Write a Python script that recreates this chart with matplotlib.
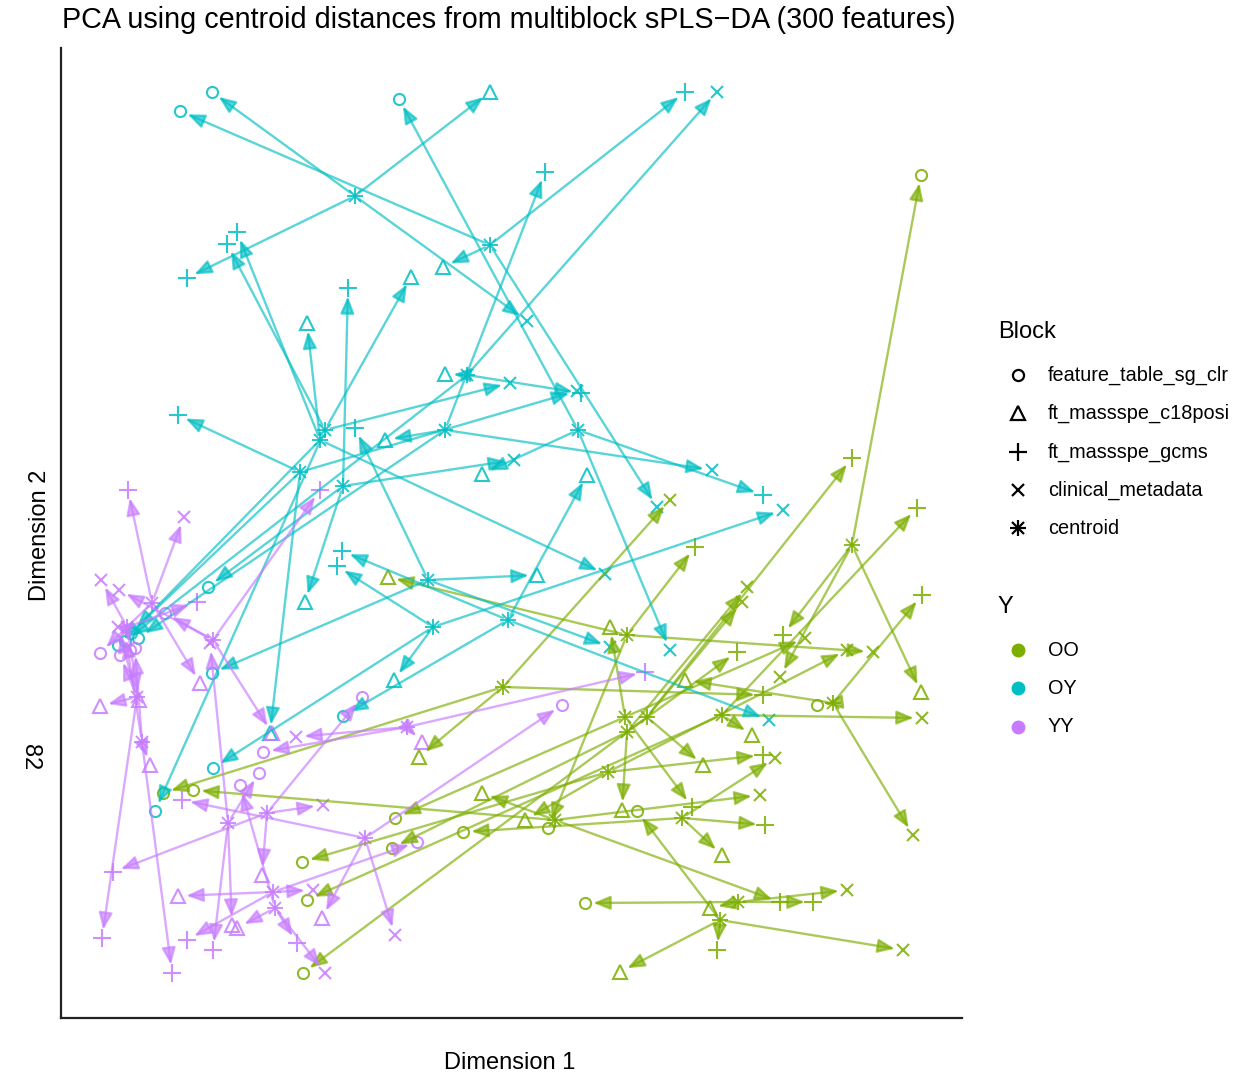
import matplotlib.pyplot as plt
from matplotlib.lines import Line2D

plt.rcParams['font.family'] = ['Liberation Sans', 'DejaVu Sans']

# Component scores (Dimension 1, Dimension 2; Dimension 2 axis runs downward)
# one row per sample, same order in every list of a group

# --- OY ---
oy_centroid = [(355, 196), (490, 245), (467, 375), (445, 430), (578, 430), (343, 486),
               (508, 620), (428, 580), (433, 627), (325, 430), (320, 440), (300, 472)]
oy_sg_clr = [(212, 92), (180, 111), (125, 641), (138, 638), (399, 99), (208, 587),
             (343, 716), (212, 673), (213, 768), (155, 811), (131, 633), (118, 645)]
oy_c18posi = [(490, 92), (443, 267), (445, 374), (385, 440), (482, 474), (305, 602),
              (587, 475), (537, 575), (394, 680), (411, 277), (307, 323), (270, 733)]
oy_gcms = [(187, 278), (685, 92), (581, 393), (545, 172), (763, 495), (348, 288),
           (342, 551), (355, 428), (337, 566), (227, 244), (237, 232), (178, 415)]
oy_clinical = [(527, 321), (657, 507), (717, 92), (712, 470), (670, 650), (514, 460),
               (769, 720), (610, 647), (783, 510), (510, 383), (605, 574), (577, 391)]

# --- YY ---
yy_centroid = [(152, 603), (127, 627), (213, 640), (137, 697), (142, 742), (228, 823),
               (267, 813), (273, 892), (275, 908), (365, 838), (407, 727)]
yy_sg_clr = [(100, 653), (130, 650), (165, 613), (120, 655), (135, 648), (259, 773),
             (362, 697), (417, 842), (240, 785), (562, 705), (263, 752)]
yy_c18posi = [(200, 683), (139, 700), (272, 733), (100, 706), (150, 765), (232, 925),
              (262, 875), (178, 896), (237, 928), (322, 918), (422, 742)]
yy_gcms = [(128, 490), (197, 602), (320, 490), (102, 938), (172, 973), (213, 950),
           (113, 872), (187, 940), (297, 943), (182, 800), (645, 672)]
yy_clinical = [(184, 517), (101, 580), (119, 590), (118, 627), (125, 632), (210, 643),
               (323, 805), (313, 890), (325, 973), (395, 935), (296, 737)]

# --- OO ---
oo_centroid = [(852, 545), (627, 635), (503, 687), (625, 717), (647, 717), (627, 732), (722, 715),
               (608, 772), (555, 820), (682, 818), (833, 703), (738, 902), (720, 920)]
oo_sg_clr = [(921, 175), (548, 828), (163, 793), (395, 818), (303, 973), (392, 848), (307, 900),
             (302, 862), (193, 790), (463, 832), (817, 705), (585, 903), (637, 811)]
oo_c18posi = [(921, 692), (388, 577), (419, 757), (610, 627), (703, 765), (622, 810), (752, 735),
              (525, 820), (482, 793), (722, 855), (685, 680), (710, 908), (620, 972)]
oo_gcms = [(783, 635), (695, 547), (763, 695), (692, 807), (852, 458), (737, 652), (917, 508),
           (763, 755), (780, 902), (765, 825), (922, 595), (813, 902), (717, 950)]
oo_clinical = [(780, 677), (873, 652), (670, 500), (805, 638), (742, 602), (747, 587), (922, 718),
               (847, 650), (760, 795), (775, 758), (913, 835), (847, 890), (903, 950)]

groups = [
    ('OO', '#7CAE00', oo_centroid, [oo_sg_clr, oo_c18posi, oo_gcms, oo_clinical]),
    ('OY', '#00BFC4', oy_centroid, [oy_sg_clr, oy_c18posi, oy_gcms, oy_clinical]),
    ('YY', '#C77CFF', yy_centroid, [yy_sg_clr, yy_c18posi, yy_gcms, yy_clinical]),
]
block_names = ['feature_table_sg_clr', 'ft_massspe_c18posi', 'ft_massspe_gcms', 'clinical_metadata']
block_marker = [dict(marker='o', ms=8), dict(marker='^', ms=10),
                dict(marker='+', ms=13), dict(marker='x', ms=9)]

W, H = 1246, 1076
fig = plt.figure(figsize=(W / 100, H / 100), dpi=100)
ax = fig.add_axes([61 / W, (H - 1018) / H, 901 / W, 970 / H])
ax.set_xlim(61, 962)
ax.set_ylim(1018, 48)

alpha = 0.65
for name, col, cents, blocks in groups:
    for b, pts in enumerate(blocks):
        for (cx, cy), (px, py) in zip(cents, pts):
            ax.annotate('', xy=(px, py), xytext=(cx, cy),
                        arrowprops=dict(arrowstyle='-|>,head_length=0.85,head_width=0.35',
                                        color=col, alpha=alpha, lw=1.7,
                                        shrinkA=4, shrinkB=6, mutation_scale=12))
    for b, pts in enumerate(blocks):
        xs = [p[0] for p in pts]
        ys = [p[1] for p in pts]
        ax.plot(xs, ys, ls='none', mfc='none', mec=col, mew=1.5, alpha=0.85,
                **block_marker[b])
    cx = [p[0] for p in cents]
    cy = [p[1] for p in cents]
    ax.plot(cx, cy, ls='none', marker='+', ms=12, mec=col, mew=1.4, alpha=0.85)
    ax.plot(cx, cy, ls='none', marker='x', ms=8, mec=col, mew=1.4, alpha=0.85)

for s in ['top', 'right']:
    ax.spines[s].set_visible(False)
for s in ['left', 'bottom']:
    ax.spines[s].set_linewidth(1.6)
    ax.spines[s].set_color('#222222')
ax.set_xticks([])
ax.set_yticks([])

fig.text(62 / W, 1 - 20 / H, 'PCA using centroid distances from multiblock sPLS\u2212DA (300 features)',
         fontsize=20.7, va='center', ha='left')
fig.text(510 / W, 1 - 1063 / H, 'Dimension 1', fontsize=17, ha='center', va='center')
fig.text(40 / W, 1 - 535 / H, 'Dimension 2', fontsize=17, ha='center', va='center', rotation=90)
fig.text(30 / W, 1 - 757 / H, '82', fontsize=17, ha='center', va='center', rotation=270)

# legend: Block
fig.text(998 / W, 1 - 332 / H, 'Block', fontsize=17, ha='left', va='center')
leg_y = [375, 413, 452, 490, 528]
for i, nm in enumerate(block_names + ['centroid']):
    y = 1 - leg_y[i] / H
    if i < 4:
        fig.add_artist(Line2D([1018 / W], [y], transform=fig.transFigure, ls='none',
                              mfc='none', mec='black', mew=1.6, **block_marker[i]))
    else:
        fig.add_artist(Line2D([1018 / W], [y], transform=fig.transFigure, ls='none',
                              marker='+', ms=12, mec='black', mew=1.6))
        fig.add_artist(Line2D([1018 / W], [y], transform=fig.transFigure, ls='none',
                              marker='x', ms=8, mec='black', mew=1.6))
    fig.text(1048 / W, y, nm, fontsize=14.3, ha='left', va='center')

# legend: Y
fig.text(998 / W, 1 - 607 / H, 'Y', fontsize=17, ha='left', va='center')
for (name, col, _, _), yy in zip(groups, [650, 688, 727]):
    y = 1 - yy / H
    fig.add_artist(Line2D([1018 / W], [y], transform=fig.transFigure, ls='none',
                          marker='o', ms=9, mfc=col, mec=col))
    fig.text(1048 / W, y, name, fontsize=14.3, ha='left', va='center')

fig.savefig('out.png', dpi=100)
